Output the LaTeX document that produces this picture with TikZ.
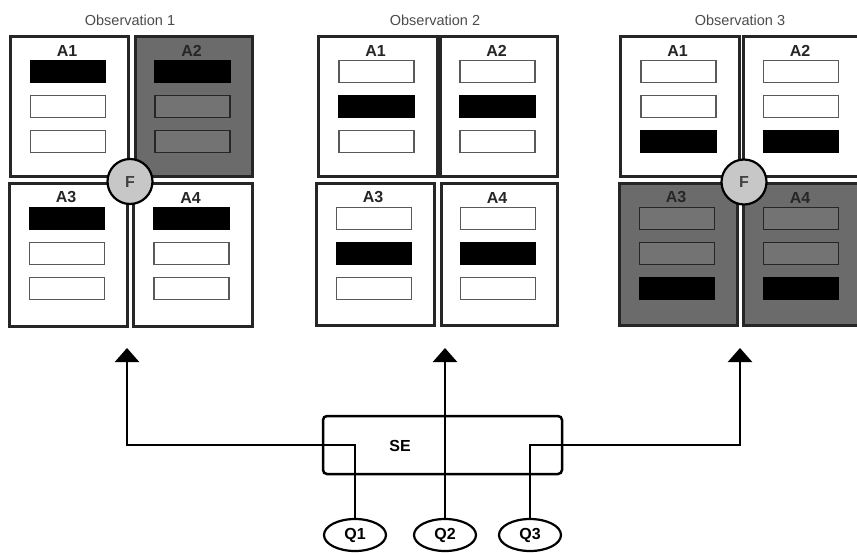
\documentclass[tikz,border=0pt]{standalone}
\usepackage{fontspec}
\setmainfont{Liberation Sans}
\usetikzlibrary{arrows.meta,shapes.geometric}
\newcommand\mkpanel[8]{%
  \node[#2,minimum width={(#5-#3)*1pt},minimum height={(#6-#4)*1pt}] (#1) at ({(#3+#5)/2},{(#4+#6)/2}) {};
  \node[lab] (#1l) at ({(#3+#5)/2-2},{#4+14.5}) {#7};
  \foreach \s [count=\i] in {#8} {\node[\s] (#1b\i) at ({(#3+#5)/2-1},{#4+35.5+35*(\i-1)}) {};}
}
\begin{document}
\begin{tikzpicture}[x=1pt,y=-1pt,
  panel/.style={draw=black!85,line width=3pt,inner sep=0pt,outer sep=0pt},
  wpanel/.style={panel,fill=white},
  gpanel/.style={panel,fill=black!58},
  bar/.style={minimum width=75pt,minimum height=22pt,inner sep=0pt,line width=1.8pt},
  wbar/.style={bar,fill=white,draw=black!65},
  bbar/.style={bar,fill=black,draw=black},
  gbar/.style={bar,fill=black!55,draw=black!85},
  lab/.style={font=\bfseries\fontsize{16}{16}\selectfont,text=black!85},
  title/.style={font=\fontsize{14.5}{14.5}\selectfont,text=black!70},
  fnode/.style={circle,draw=black,line width=2.2pt,fill=black!22,minimum size=45pt,inner sep=0pt,font=\bfseries\fontsize{16}{16}\selectfont,text=black!75},
  link/.style={line width=2.5pt,draw=black},
  tip/.style={-{Triangle[width=24pt,length=14pt]}},
  qnode/.style={ellipse,draw,line width=2.2pt,minimum width=62pt,minimum height=32pt,inner sep=0pt,font=\bfseries\fontsize{16}{16}\selectfont},
  sebox/.style={draw,line width=2.5pt,rounded corners=4pt,minimum width=239pt,minimum height=58pt,inner sep=0pt}
]
\useasboundingbox[fill=white] (0,0) rectangle (857,552);

% titles
\node[title] (obs1) at (130,20) {Observation 1};
\node[title] (obs2) at (435,20) {Observation 2};
\node[title] (obs3) at (740,20) {Observation 3};

% Observation 1
\mkpanel{oa}{wpanel}{10}{36}{128}{176}{A1}{bbar,wbar,wbar}
\mkpanel{ob}{gpanel}{135}{36}{252}{176}{A2}{bbar,gbar,gbar}
\mkpanel{oc}{wpanel}{9}{183}{127}{326}{A3}{bbar,wbar,wbar}
\mkpanel{od}{wpanel}{133}{183}{252}{326}{A4}{bbar,wbar,wbar}
\node[fnode] (f1) at (130,181.5) {F};

% Observation 2
\mkpanel{pa}{wpanel}{318}{36}{437}{176}{A1}{wbar,bbar,wbar}
\mkpanel{pb}{wpanel}{440}{36}{557}{176}{A2}{wbar,bbar,wbar}
\mkpanel{pc}{wpanel}{316}{183}{434}{325}{A3}{wbar,bbar,wbar}
\mkpanel{pd}{wpanel}{441}{183}{557}{325}{A4}{wbar,bbar,wbar}

% Observation 3
\mkpanel{ra}{wpanel}{620}{36}{739}{176}{A1}{wbar,wbar,bbar}
\mkpanel{rb}{wpanel}{743}{36}{861}{176}{A2}{wbar,wbar,bbar}
\mkpanel{rc}{gpanel}{619}{183}{737}{325}{A3}{gbar,gbar,bbar}
\mkpanel{rd}{gpanel}{743}{183}{861}{325}{A4}{gbar,gbar,bbar}
\node[fnode] (f3) at (744,182) {F};

% bottom part
\node[sebox] (se) at (442.5,445) {};
\node[font=\bfseries\fontsize{16}{16}\selectfont] (setext) at (400,446) {SE};
\node[qnode] (q1) at (355,535) {Q1};
\node[qnode] (q2) at (445,535) {Q2};
\node[qnode] (q3) at (530,535) {Q3};

\coordinate (t1) at (127,348);
\coordinate (t2) at (445,348);
\coordinate (t3) at (740,348);
\coordinate (c1) at (355,445);
\coordinate (c3) at (530,445);

\draw[link,tip] (q1.north) -- (c1) -| (t1);
\draw[link,tip] (q2.north) -- (t2);
\draw[link,tip] (q3.north) -- (c3) -| (t3);
\end{tikzpicture}
\end{document}
